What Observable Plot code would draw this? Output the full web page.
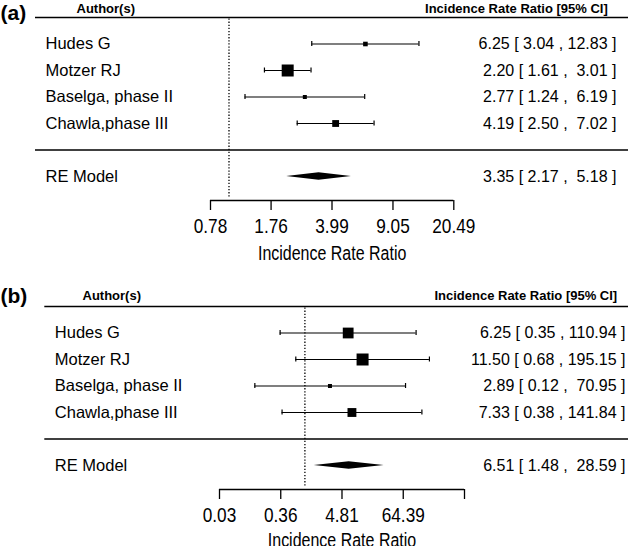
<!DOCTYPE html>
<html><head><meta charset="utf-8">
<script src="https://cdn.jsdelivr.net/npm/d3@7"></script>
<script src="https://cdn.jsdelivr.net/npm/@observablehq/plot@0.6"></script>
<style>
html,body{margin:0;padding:0;background:#fff;overflow:hidden;}
#chart svg{display:block;}
</style></head><body><div id="chart"></div>
<script>
// ---- data ----
const studies = ["Hudes G", "Motzer RJ", "Baselga, phase II", "Chawla,phase III"];
const summaryLabel = "RE Model";
const headerLeft = "Author(s)";
const headerRight = "Incidence Rate Ratio [95% CI]";
const axisTitle = "Incidence Rate Ratio";
const panelTags = ["(a)", "(b)"];

const irrA = [6.25, 2.20, 2.77, 4.19];
const lowerA = [3.04, 1.61, 1.24, 2.50];
const upperA = [12.83, 3.01, 6.19, 7.02];
const reA = [3.35, 2.17, 5.18]; // estimate, lower, upper
const ticksA = [0.78, 1.76, 3.99, 9.05, 20.49];
const tickLabelsA = ["0.78", "1.76", "3.99", "9.05", "20.49"];

const irrB = [6.25, 11.50, 2.89, 7.33];
const lowerB = [0.35, 0.68, 0.12, 0.38];
const upperB = [110.94, 195.15, 70.95, 141.84];
const reB = [6.51, 1.48, 28.59];
const ticksB = [0.02686, 0.3595, 4.81, 64.39, 861.9];
const tickLabelsB = ["0.03", "0.36", "4.81", "64.39", ""];

// ---- layout / style ----
const W = 639, H = 289;
const sans = "'Liberation Sans', Arial, Helvetica, sans-serif";
const rowTop = 43.5, rowBottom = 123, axisPx = 200;
const rowPx = (rowBottom - rowTop) / 3;
const toRow = px => 4 - (px - rowTop) / rowPx;
const narrowScale = 0.82; // emulate Arial Narrow

const panels = [
  {tag: panelTags[0], est: irrA, lo: lowerA, hi: upperA, re: reA, ticks: ticksA, tickLabels: tickLabelsA,
   xRange: [210, 453.3], lineL: 35, lineR: 628, labelX: 45, authX: 76, rightX: 616, headRightX: 607.3, tagY: 13, headY: 8.4, titleDy: 53.5},
  {tag: panelTags[1], est: irrB, lo: lowerB, hi: upperB, re: reB, ticks: ticksB, tickLabels: tickLabelsB,
   xRange: [219, 464], lineL: 44.3, lineR: 628, labelX: 54.3, authX: 82, rightX: 625, headRightX: 616.7, tagY: 6.5, headY: 6, titleDy: 51.5}
];

function psizes(lo, hi) {
  // metafor-style: weight ~ 1/SE, rescaled to 0.5..1.5
  const w = lo.map((l, i) => 2 * 1.96 / (Math.log(hi[i]) - Math.log(l)));
  const mn = d3.min(w), mx = d3.max(w);
  return w.map(v => 0.5 + (v - mn) / (mx - mn));
}
function fmtCol(vals) {
  const s = vals.map(v => v.toFixed(2));
  const w = d3.max(s, d => d.length);
  return s.map(d => "\u00a0".repeat(w - d.length) + d);
}

function makePanel(p) {
  const k = studies.length;
  const ps = psizes(p.lo, p.hi);
  const estS = fmtCol([...p.est, p.re[0]]);
  const loS = fmtCol([...p.lo, p.re[1]]);
  const hiS = fmtCol([...p.hi, p.re[2]]);
  const rows = studies.map((s, i) => ({
    label: s, row: k - i, est: p.est[i], lo: p.lo[i], hi: p.hi[i],
    r: ps[i] * 8 / Math.sqrt(Math.PI),
    annot: `${estS[i]} [ ${loS[i]} , ${hiS[i]} ]`
  }));
  const reRow = -1;
  const summary = [{label: summaryLabel, row: reRow, annot: `${estS[k]} [ ${loS[k]} , ${hiS[k]} ]`}];
  const hh = 0.14;
  const diamond = [
    {x: p.re[1], y1: reRow, y2: reRow},
    {x: p.re[0], y1: reRow - hh, y2: reRow + hh},
    {x: p.re[2], y1: reRow, y2: reRow}
  ];
  const t0 = p.ticks[0], tN = p.ticks[p.ticks.length - 1];
  const tickData = p.ticks.map((v, i) => ({v, label: p.tickLabels[i]}));
  const axisRow = toRow(axisPx);
  const topRow = k + 1;
  const allRows = [...rows, ...summary];
  const mid = {lineAnchor: "middle", fill: "black"};

  const svg = Plot.plot({
    width: W, height: H,
    marginLeft: 0, marginRight: 0, marginTop: 0, marginBottom: H - axisPx,
    style: {background: "white", color: "black", fontFamily: sans, fontSize: "16px", overflow: "visible"},
    x: {type: "log", domain: [t0, tN], range: p.xRange, axis: null},
    y: {domain: [4, 1], range: [rowTop, rowBottom], axis: null},
    r: {type: "identity"},
    marks: [
      // panel tag
      Plot.text([p.tag], {...mid, frameAnchor: "top-left", dy: p.tagY, textAnchor: "start", fontWeight: "bold", fontSize: 21}),
      // headers
      Plot.text([headerLeft], {...mid, frameAnchor: "top-left", dx: p.authX, dy: p.headY, textAnchor: "start", fontWeight: "bold", fontSize: 13}),
      Plot.text([headerRight], {...mid, frameAnchor: "top-right", dx: p.headRightX - W, dy: p.headY, textAnchor: "end", fontWeight: "bold", fontSize: 13}),
      // horizontal lines
      Plot.ruleY([topRow, 0], {insetLeft: p.lineL, insetRight: W - p.lineR, strokeWidth: 1.5, stroke: "black"}),
      // reference line at IRR = 1
      Plot.ruleX([1], {x: d => d, y1: () => topRow, y2: () => axisRow, insetTop: 1.5, insetBottom: 3, strokeDasharray: "1.3,1.8", stroke: "black", strokeWidth: 1.3}),
      // CI whiskers and caps
      Plot.ruleY(rows, {y: "row", x1: "lo", x2: "hi", stroke: "black", strokeWidth: 1.2}),
      Plot.ruleX(rows, {x: "lo", y1: "row", y2: "row", insetTop: -2.5, insetBottom: -2.5, stroke: "black", strokeWidth: 1.2}),
      Plot.ruleX(rows, {x: "hi", y1: "row", y2: "row", insetTop: -2.5, insetBottom: -2.5, stroke: "black", strokeWidth: 1.2}),
      // point estimates
      Plot.dot(rows, {x: "est", y: "row", r: "r", symbol: "square", fill: "black", stroke: null}),
      // summary diamond
      Plot.areaY(diamond, {x: "x", y1: "y1", y2: "y2", fill: "black", curve: "linear"}),
      // labels
      Plot.text(allRows, {...mid, frameAnchor: "left", dx: p.labelX, y: "row", text: "label", textAnchor: "start", fontSize: 16.5}),
      Plot.text(allRows, {...mid, frameAnchor: "right", dx: p.rightX - W, y: "row", text: "annot", textAnchor: "end", fontSize: 16}),
      // axis: line, ticks, labels, title
      Plot.ruleY([{y: axisRow, x1: t0, x2: tN}], {y: "y", x1: "x1", x2: "x2", stroke: "black", strokeWidth: 1.3}),
      Plot.ruleX(tickData, {x: "v", y1: () => axisRow, y2: () => axisRow, insetBottom: -10, stroke: "black", strokeWidth: 1.3}),
      Plot.text(tickData, {...mid, x: "v", text: "label", frameAnchor: "bottom", dy: 26, fontSize: 21, className: "narrow-txt"}),
      Plot.text([{x: Math.sqrt(t0 * tN), t: axisTitle}], {...mid, x: "x", text: "t", frameAnchor: "bottom", dy: p.titleDy, fontSize: 19.5, className: "narrow-txt"})
    ]
  });
  // condense the axis texts (Arial Narrow look)
  d3.select(svg).selectAll(".narrow-txt text").each(function() {
    const t = this.getAttribute("transform") || "";
    this.setAttribute("transform", (t + ` scale(${narrowScale},1)`).trim());
  });
  return svg;
}

const root = document.getElementById("chart");
panels.forEach(p => root.appendChild(makePanel(p)));
</script>
</body></html>
